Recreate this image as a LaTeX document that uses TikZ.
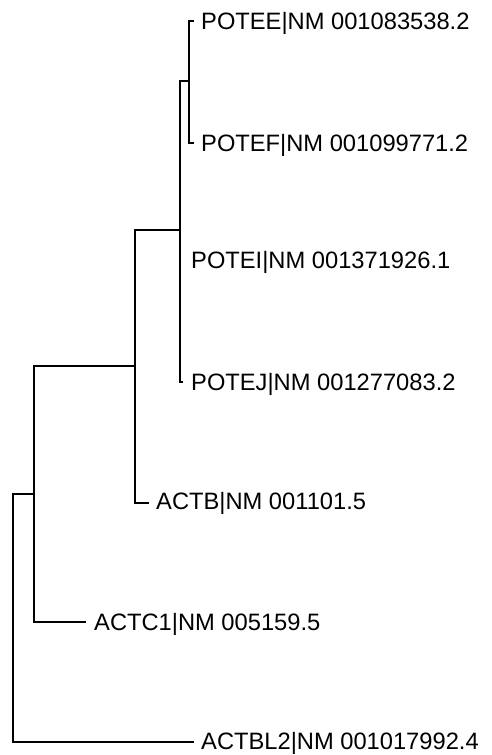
\documentclass[tikz,border=0pt]{standalone}
\usepackage{fontspec}
\setmainfont{Liberation Sans}
\begin{document}
\begin{tikzpicture}[x=1pt,y=-1pt,
  br/.style={line width=2pt, line cap=rect, line join=miter, black},
  lab/.style={anchor=base west, inner sep=0pt, font=\fontsize{23.7}{28}\selectfont}]
\useasboundingbox (0,0) rectangle (492,755);
% internal nodes
\coordinate (root) at (13,618);
\coordinate (a) at (34,494);
\coordinate (b) at (135,366);
\coordinate (c) at (180,230);
\coordinate (d) at (189,81);
% leaf ends
\coordinate (eE) at (193,21);
\coordinate (eF) at (193,143);
\coordinate (eI) at (180,260);
\coordinate (eJ) at (182,382);
\coordinate (eB) at (148,503);
\coordinate (eC1) at (85,622);
\coordinate (eBL2) at (193,742);
% labels
\node[lab] (lE) at (201,29.5) {POTEE|NM 001083538.2};
\node[lab] (lF) at (201,151.5) {POTEF|NM 001099771.2};
\node[lab] (lI) at (191,268.5) {POTEI|NM 001371926.1};
\node[lab] (lJ) at (191,390.5) {POTEJ|NM 001277083.2};
\node[lab] (lB) at (156,509.5) {ACTB|NM 001101.5};
\node[lab] (lC1) at (94,630.5) {ACTC1|NM 005159.5};
\node[lab] (lBL2) at (201,749) {ACTBL2|NM 001017992.4};
% branches
\draw[br] (root) |- (a);
\draw[br] (root) |- (eBL2);
\draw[br] (a) |- (b);
\draw[br] (a) |- (eC1);
\draw[br] (b) |- (c);
\draw[br] (b) |- (eB);
\draw[br] (c) |- (d);
\draw[br] (c) |- (eJ);
\draw[br] (d) |- (eE);
\draw[br] (d) |- (eF);
\end{tikzpicture}
\end{document}
